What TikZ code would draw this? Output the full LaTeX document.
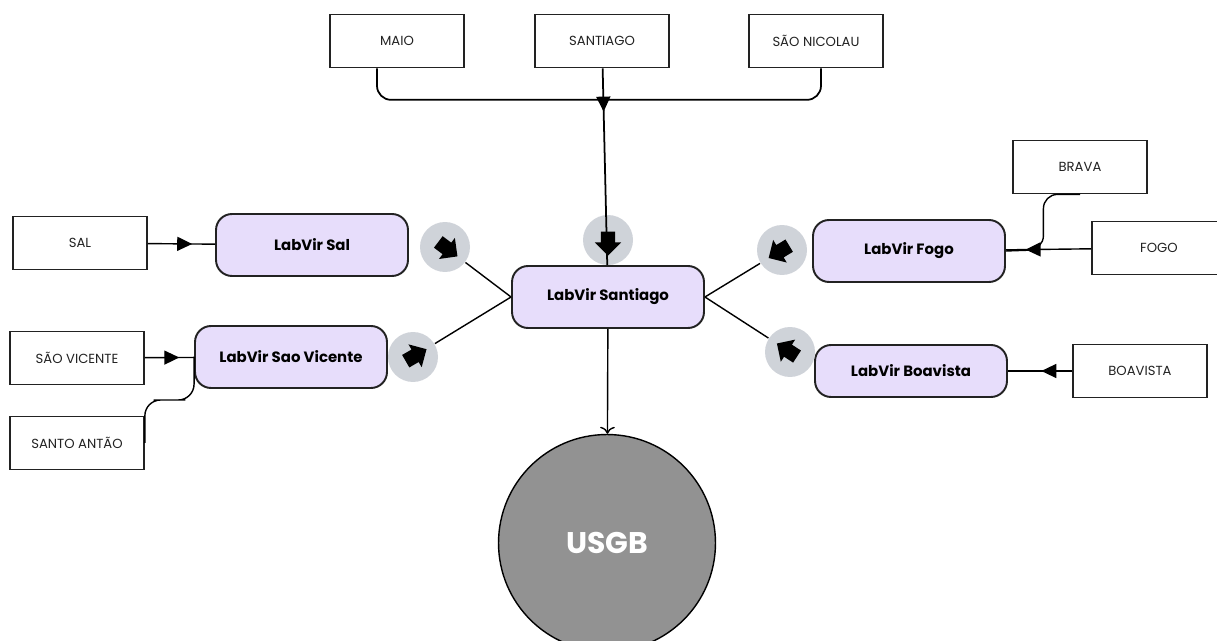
\documentclass[tikz,border=0pt]{standalone}
\usepackage{fontspec}
\setmainfont{Poppins}
\usetikzlibrary{arrows.meta,shapes.arrows,decorations.markings,calc}
\definecolor{labfill}{HTML}{E7DDFB}
\definecolor{btnfill}{HTML}{CFD3D9}
\definecolor{hubfill}{HTML}{929292}
\definecolor{ink}{HTML}{222222}

\begin{document}
\begin{tikzpicture}[x = 0.02cm, y = -0.02cm, line width = 0.8pt,
	island/.style = {rectangle, draw = ink, line width = 1pt, fill = white, minimum width = 2.68cm, minimum height = 1.06cm, text = ink, font = \fontsize{7.5}{9}\selectfont},
	lab/.style = {rectangle, rounded corners = 0.32cm, draw = ink, line width = 1.1pt, fill = labfill, minimum width = 3.84cm, minimum height = 1.24cm, font = \fontsize{8.5}{10}\selectfont\bfseries},
	btn/.style = {circle, fill = btnfill, minimum size = 1cm, inner sep = 0},
	pointer/.style = {single arrow, fill = black, inner xsep = 0, inner ysep = 0.13cm, minimum height = 0.48cm, single arrow head extend = 0.12cm},
	midarrow/.style = {postaction = decorate, decoration = {markings, mark = at position #1 with {\arrow{Triangle[length = 0.3cm, width = 0.28cm]}}}}]

	\useasboundingbox (0,0) rectangle (1217,641);

	% islands
	\node (MAIO)  at ( 397,  41) [island] {MAIO};
	\node (SANT)  at ( 602,  41) [island] {SANTIAGO};
	\node (SNIC)  at ( 816,  41) [island] {SÃO NICOLAU};
	\node (BRAVA) at (1080, 167) [island] {BRAVA};
	\node (FOGO)  at (1159, 248) [island] {FOGO};
	\node (BOA)   at (1140, 371) [island] {BOAVISTA};
	\node (SAL)   at (  80, 243) [island] {SAL};
	\node (SV)    at (  77, 358) [island] {SÃO VICENTE};
	\node (SA)    at (  77, 443) [island] {SANTO ANTÃO};

	% labs
	\node (LSant) at (608, 297) [lab] {LabVir Santiago};
	\node (LSal)  at (312, 245) [lab] {LabVir Sal};
	\node (LSV)   at (291, 357) [lab] {LabVir Sao Vicente};
	\node (LFogo) at (909, 251) [lab] {LabVir Fogo};
	\node (LBoa)  at (911, 371) [lab, minimum height = 1.04cm] {LabVir Boavista};

	\node (USGB) at (607, 543) [circle, draw = black, fill = hubfill, minimum size = 4.34cm, text = white, font = \fontsize{17}{20}\selectfont\bfseries] {USGB};

	% buttons
	\foreach \name/\x/\y in {BSal/445/247, BSV/413/357, BTop/608/240, BFogo/782/250, BBoa/790/352}
		\node (\name) at (\x, \y) [btn] {};

	\foreach \btn/\side in {BSal/west, BSV/west, BFogo/east, BBoa/east}
		\draw (LSant.\side) -- (\btn);

	\draw [midarrow = 0.22, line width = 1pt] (SANT) -- (LSant);
	\draw [-{To[length = 4pt]}] (LSant) -- (USGB);

	\coordinate (tj) at ($(SANT.south)!0.16!(LSant.north)$);
	\draw [rounded corners = 8pt, line width = 1pt] ([xshift = -0.4cm]MAIO.south) |- (tj) -| ([xshift = 0.1cm]SNIC.south);

	\foreach \from/\pos/\to in {SAL/0.66/LSal, SV/0.7/LSV, FOGO/0.77/LFogo, BOA/0.48/LBoa}
		\draw [midarrow = \pos] (\from) -- (\to);

	\coordinate (sj) at ($(SA.east)!0.5!(LSV.west)$);
	\draw [rounded corners = 9pt] (SA.east) |- (sj) -| (LSV.west);

	\coordinate (bj) at ($(LFogo.east)!0.44!(FOGO.west)$);
	\draw [rounded corners = 8pt] (BRAVA.south) -| (bj) -- (LFogo.east);

	\foreach \btn/\angle in {BSal/-37, BSV/30, BTop/-90, BFogo/211, BBoa/147}
		\node (I\btn) at (\btn) [pointer, rotate = \angle] {};

\end{tikzpicture}
\end{document}
